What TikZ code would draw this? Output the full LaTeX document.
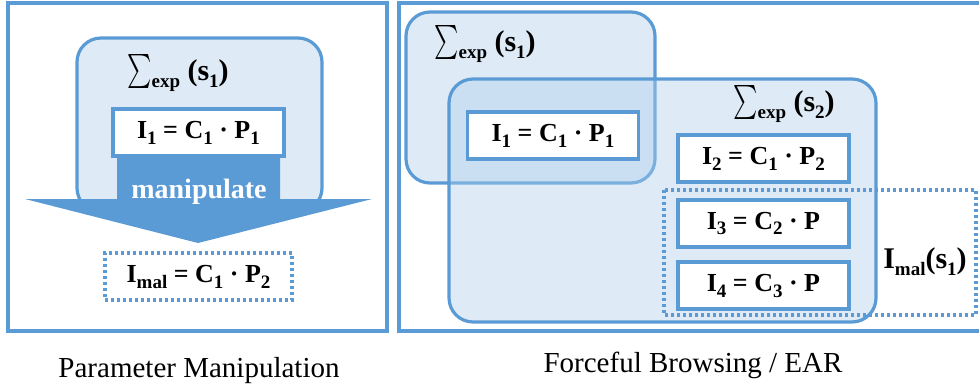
\documentclass[tikz,border=0pt]{standalone}
\usepackage{fontspec}
\setmainfont{Liberation Serif}
\usepackage{graphicx}
\usepackage{tikz}
\usetikzlibrary{positioning}

\definecolor{lineblue}{RGB}{91,155,213}
\definecolor{setblue}{RGB}{172,205,235}

% lowered index, as in I_1 or Sigma_exp
\newcommand{\lo}[1]{\raisebox{-0.5ex}{\fontsize{9.5}{9.5}\selectfont #1}}
\newcommand{\sumexp}[1]{\raisebox{-0.2ex}{\scalebox{1.15}[1.7]{$\sum$}}\lo{exp} (s\lo{#1})}

\begin{document}
\begin{tikzpicture}[x=0.5pt,y=-0.5pt,
    panel/.style={draw=lineblue,line width=1.8pt},
    setbox/.style={draw=lineblue,line width=1.6pt,fill=setblue,fill opacity=0.4,rounded corners=12pt},
    inst/.style={draw=lineblue,line width=1.7pt,fill=white,inner sep=0pt,
                 minimum width=85.5pt,minimum height=23.5pt,font=\fontsize{13}{13}\selectfont\bfseries},
    malbox/.style={draw=lineblue,line width=1.8pt,dash pattern=on 1.5pt off 1.5pt},
    setlabel/.style={font=\fontsize{15}{15}\selectfont\bfseries},
    caption/.style={anchor=base,font=\fontsize{14.5}{14.5}\selectfont}]
  \useasboundingbox (0,0) rectangle (979,385);

  % two panels, the right one runs off the page
  \draw[panel] (8,3) rectangle (387,331);
  \draw[panel] (990,3) -- (399,3) -- (399,331) -- (990,331);

  % parameter manipulation
  \draw[setbox] (77,38) rectangle (322,212);
  \node[setlabel] (lsum) at (178,73) {\sumexp{1}};
  \fill[lineblue] (117,150) -- (280,150) -- (280,199) -- (372,199) -- (198,243)
                  -- (25,199) -- (117,199) -- cycle;
  \node[inst] (li1) at (198.5,132.5) {I\lo{1} = C\lo{1} · P\lo{1}};
  \node[white,font=\fontsize{14}{14}\selectfont\bfseries] (manip) at (199,192) {manipulate};
  \node[malbox,inner sep=0pt,minimum width=93.5pt,minimum height=23.5pt,
        font=\fontsize{13}{13}\selectfont\bfseries] (limal) at (198.5,276.5)
        {I\lo{mal} = C\lo{1} · P\lo{2}};
  \node[caption] (lcap) at (199,377) {Parameter Manipulation};

  % forceful browsing / EAR
  \draw[setbox] (406,12) rectangle (655,183);
  \draw[setbox] (449,79) rectangle (876,322);
  \node[setlabel] (rsum1) at (485,44) {\sumexp{1}};
  \node[setlabel] (rsum2) at (784,104) {\sumexp{2}};
  \node[inst] (ri1) at (553,135.5) {I\lo{1} = C\lo{1} · P\lo{1}};
  \node[inst] (ri2) at (763.5,158.5) {I\lo{2} = C\lo{1} · P\lo{2}};
  \node[inst] (ri3) at (763.5,223.5) {I\lo{3} = C\lo{2} · P};
  \node[inst] (ri4) at (763.5,285.5) {I\lo{4} = C\lo{3} · P};
  \draw[malbox] (664,190) rectangle (976,315);
  \node[setlabel] (rimal) at (925,262) {I\lo{mal}(s\lo{1})};
  \node[caption] (rcap) at (693,372) {Forceful Browsing / EAR};
\end{tikzpicture}
\end{document}
